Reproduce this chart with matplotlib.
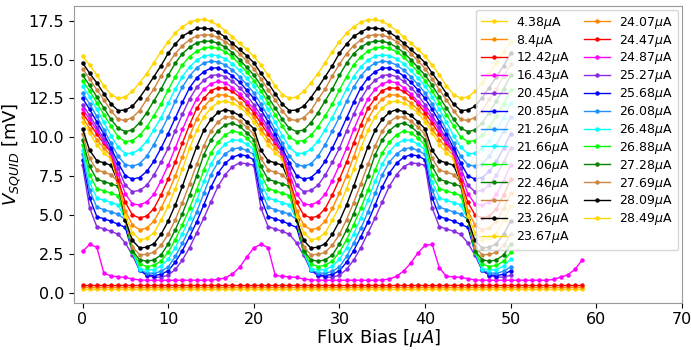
import numpy as np
import matplotlib
matplotlib.use("Agg")
import matplotlib.pyplot as plt

# flux bias sweep in uA (the SQUID curves above 20 uA stop at 50 uA)
flux = np.linspace(0, 58.33, 71)

bias_labels = ["4.38", "8.4", "12.42", "16.43", "20.45", "20.85", "21.26", "21.66",
               "22.06", "22.46", "22.86", "23.26", "23.67", "24.07", "24.47", "24.87",
               "25.27", "25.68", "26.08", "26.48", "26.88", "27.28", "27.69", "28.09", "28.49"]

palette = ["gold", "darkorange", "red", "magenta", "blueviolet", "blue",
           "dodgerblue", "cyan", "lime", "green", "peru", "black"]

# below the critical current: flat
v_04_38 = [0.22] * 71
v_08_40 = [0.37] * 71
v_12_42 = [0.52] * 71

v_16_43 = [2.65, 3.1, 2.93, 1.25, 1.08, 1.02, 0.98, 0.88, 0.82, 0.8, 0.8, 0.8, 0.8, 0.8, 0.8, 0.8, 0.8, 0.8, 0.82, 0.85, 0.95, 1.2, 1.62, 2.28,
           2.88, 3.12, 2.9, 1.12, 1.05, 1.02, 0.98, 0.88, 0.82, 0.8, 0.8, 0.8, 0.8, 0.8, 0.8, 0.8, 0.8, 0.8, 0.82, 0.88, 1.05, 1.4, 1.9, 2.55,
           3.05, 3.1, 1.6, 1.05, 1.02, 0.98, 0.9, 0.82, 0.8, 0.8, 0.8, 0.8, 0.8, 0.8, 0.8, 0.8, 0.8, 0.8, 0.85, 1.0, 1.15, 1.5, 2.1]

v_20_45 = [8.2, 5.45, 4.25, 4.1, 3.95, 3.75, 3.2, 2.4, 1.45, 1.1, 1.0, 1.0, 1.12, 1.5, 2.1, 2.9, 3.85, 4.8, 5.85, 6.85, 7.6, 8.1, 8.35, 8.3,
           8.2, 5.45, 4.25, 4.1, 3.95, 3.75, 3.2, 2.4, 1.45, 1.1, 1.0, 1.0, 1.12, 1.5, 2.1, 2.9, 3.85, 4.8, 5.85, 6.85, 7.6, 8.1, 8.35, 8.3,
           8.2, 5.45, 4.25, 4.1, 3.95, 3.75, 3.2, 2.4, 1.45, 1.1, 1.0, 1.0, 1.12]
v_20_85 = [8.55, 6.1, 4.9, 4.75, 4.6, 4.4, 4.2, 2.6, 1.45, 1.15, 1.1, 1.18, 1.41, 1.96, 2.71, 3.6, 4.56, 5.65, 6.8, 7.7, 8.33, 8.71, 8.88, 8.8,
           8.55, 6.1, 4.9, 4.75, 4.6, 4.4, 4.2, 2.6, 1.45, 1.15, 1.1, 1.18, 1.41, 1.96, 2.71, 3.6, 4.56, 5.65, 6.8, 7.7, 8.33, 8.71, 8.88, 8.8,
           8.55, 6.1, 4.9, 4.75, 4.6, 4.4, 4.2, 2.6, 1.45, 1.15, 1.1, 1.18, 1.41]
v_21_26 = [8.9, 6.6, 5.5, 5.35, 5.2, 5.05, 4.7, 2.6, 1.45, 1.28, 1.24, 1.38, 1.65, 2.33, 3.18, 4.14, 5.21, 6.39, 7.6, 8.4, 8.94, 9.23, 9.33, 9.15,
           8.9, 6.6, 5.5, 5.35, 5.2, 5.05, 4.7, 2.6, 1.45, 1.28, 1.24, 1.38, 1.65, 2.33, 3.18, 4.14, 5.21, 6.39, 7.6, 8.4, 8.94, 9.23, 9.33, 9.15,
           8.9, 6.6, 5.5, 5.35, 5.2, 5.05, 4.7, 2.6, 1.45, 1.28, 1.24, 1.38, 1.65]
v_21_66 = [9.2, 7.1, 6.1, 5.95, 5.8, 5.65, 4.7, 2.6, 1.55, 1.45, 1.49, 1.7, 2.15, 2.9, 3.79, 4.81, 5.95, 7.17, 8.27, 9.07, 9.57, 9.83, 9.8, 9.55,
           9.2, 7.1, 6.1, 5.95, 5.8, 5.65, 4.7, 2.6, 1.55, 1.45, 1.49, 1.7, 2.15, 2.9, 3.79, 4.81, 5.95, 7.17, 8.27, 9.07, 9.57, 9.83, 9.8, 9.55,
           9.2, 7.1, 6.1, 5.95, 5.8, 5.65, 4.7, 2.6, 1.55, 1.45, 1.49, 1.7, 2.15]
v_22_06 = [9.5, 7.6, 6.7, 6.55, 6.4, 6.25, 4.7, 2.6, 1.84, 1.68, 1.76, 2.03, 2.6, 3.42, 4.38, 5.43, 6.62, 7.9, 9.0, 9.68, 10.16, 10.4, 10.3, 9.95,
           9.5, 7.6, 6.7, 6.55, 6.4, 6.25, 4.7, 2.6, 1.84, 1.68, 1.76, 2.03, 2.6, 3.42, 4.38, 5.43, 6.62, 7.9, 9.0, 9.68, 10.16, 10.4, 10.3, 9.95,
           9.5, 7.6, 6.7, 6.55, 6.4, 6.25, 4.7, 2.6, 1.84, 1.68, 1.76, 2.03, 2.6]
v_22_46 = [9.85, 8.12, 7.3, 7.15, 7.0, 6.85, 4.7, 2.7, 2.12, 2.02, 2.11, 2.42, 3.13, 4.04, 5.09, 6.27, 7.52, 8.88, 9.82, 10.43, 10.8, 10.92, 10.7, 10.3,
           9.85, 8.12, 7.3, 7.15, 7.0, 6.85, 4.7, 2.7, 2.12, 2.02, 2.11, 2.42, 3.13, 4.04, 5.09, 6.27, 7.52, 8.88, 9.82, 10.43, 10.8, 10.92, 10.7, 10.3,
           9.85, 8.12, 7.3, 7.15, 7.0, 6.85, 4.7, 2.7, 2.12, 2.02, 2.11, 2.42, 3.13]
v_22_86 = [10.2, 8.64, 7.9, 7.75, 7.6, 7.1, 4.7, 2.95, 2.44, 2.46, 2.6, 3.05, 3.75, 4.7, 5.8, 7.0, 8.25, 9.45, 10.4, 11.0, 11.3, 11.3, 11.05, 10.65,
           10.2, 8.64, 7.9, 7.75, 7.6, 7.1, 4.7, 2.95, 2.44, 2.46, 2.6, 3.05, 3.75, 4.7, 5.8, 7.0, 8.25, 9.45, 10.4, 11.0, 11.3, 11.3, 11.05, 10.65,
           10.2, 8.64, 7.9, 7.75, 7.6, 7.1, 4.7, 2.95, 2.44, 2.46, 2.6, 3.05, 3.75]
v_23_26 = [10.55, 9.16, 8.5, 8.35, 8.2, 7.1, 4.7, 3.36, 2.87, 2.93, 3.15, 3.75, 4.6, 5.65, 6.85, 8.15, 9.4, 10.45, 11.15, 11.6, 11.78, 11.65, 11.4, 11.0,
           10.55, 9.16, 8.5, 8.35, 8.2, 7.1, 4.7, 3.36, 2.87, 2.93, 3.15, 3.75, 4.6, 5.65, 6.85, 8.15, 9.4, 10.45, 11.15, 11.6, 11.78, 11.65, 11.4, 11.0,
           10.55, 9.16, 8.5, 8.35, 8.2, 7.1, 4.7, 3.36, 2.87, 2.93, 3.15, 3.75, 4.6]
v_23_67 = [11.0, 10.3, 9.5, 9.0, 8.6, 7.1, 4.94, 3.87, 3.41, 3.49, 3.85, 4.65, 5.56, 6.7, 7.95, 9.29, 10.45, 11.32, 11.88, 12.24, 12.33, 12.2, 11.95, 11.55,
           11.0, 10.3, 9.5, 9.0, 8.6, 7.1, 4.94, 3.87, 3.41, 3.49, 3.85, 4.65, 5.56, 6.7, 7.95, 9.29, 10.45, 11.32, 11.88, 12.24, 12.33, 12.2, 11.95, 11.55,
           11.0, 10.3, 9.5, 9.0, 8.6, 7.1, 4.94, 3.87, 3.41, 3.49, 3.85, 4.65, 5.56]
v_24_07 = [11.3, 10.55, 9.85, 9.3, 8.8, 7.1, 5.27, 4.35, 4.05, 4.16, 4.6, 5.42, 6.4, 7.53, 8.75, 10.06, 11.19, 11.95, 12.46, 12.72, 12.72, 12.55, 12.2, 11.8,
           11.3, 10.55, 9.85, 9.3, 8.8, 7.1, 5.27, 4.35, 4.05, 4.16, 4.6, 5.42, 6.4, 7.53, 8.75, 10.06, 11.19, 11.95, 12.46, 12.72, 12.72, 12.55, 12.2, 11.8,
           11.3, 10.55, 9.85, 9.3, 8.8, 7.1, 5.27, 4.35, 4.05, 4.16, 4.6, 5.42, 6.4]
v_24_47 = [11.58, 10.9, 10.2, 9.6, 9.0, 7.24, 5.81, 5.0, 4.81, 4.93, 5.41, 6.28, 7.3, 8.41, 9.63, 10.8, 11.86, 12.5, 13.0, 13.19, 13.15, 12.95, 12.6, 12.15,
           11.58, 10.9, 10.2, 9.6, 9.0, 7.24, 5.81, 5.0, 4.81, 4.93, 5.41, 6.28, 7.3, 8.41, 9.63, 10.8, 11.86, 12.5, 13.0, 13.19, 13.15, 12.95, 12.6, 12.15,
           11.58, 10.9, 10.2, 9.6, 9.0, 7.24, 5.81, 5.0, 4.81, 4.93, 5.41, 6.28, 7.3]
v_24_87 = [11.84, 11.15, 10.45, 9.75, 9.0, 7.64, 6.36, 5.7, 5.65, 5.84, 6.32, 7.2, 8.2, 9.3, 10.5, 11.56, 12.48, 13.08, 13.44, 13.6, 13.5, 13.2, 12.8, 12.3,
           11.84, 11.15, 10.45, 9.75, 9.0, 7.64, 6.36, 5.7, 5.65, 5.84, 6.32, 7.2, 8.2, 9.3, 10.5, 11.56, 12.48, 13.08, 13.44, 13.6, 13.5, 13.2, 12.8, 12.3,
           11.84, 11.15, 10.45, 9.75, 9.0, 7.64, 6.36, 5.7, 5.65, 5.84, 6.32, 7.2, 8.2]
v_25_27 = [12.1, 11.4, 10.65, 9.9, 9.1, 8.0, 6.9, 6.5, 6.58, 6.91, 7.56, 8.39, 9.29, 10.42, 11.48, 12.46, 13.21, 13.66, 13.96, 14.03, 13.9, 13.6, 13.2, 12.7,
           12.1, 11.4, 10.65, 9.9, 9.1, 8.0, 6.9, 6.5, 6.58, 6.91, 7.56, 8.39, 9.29, 10.42, 11.48, 12.46, 13.21, 13.66, 13.96, 14.03, 13.9, 13.6, 13.2, 12.7,
           12.1, 11.4, 10.65, 9.9, 9.1, 8.0, 6.9, 6.5, 6.58, 6.91, 7.56, 8.39, 9.29]
v_25_68 = [12.5, 11.8, 11.0, 10.2, 9.3, 8.35, 7.52, 7.31, 7.41, 7.8, 8.45, 9.3, 10.24, 11.24, 12.25, 13.18, 13.82, 14.22, 14.44, 14.47, 14.25, 13.95, 13.55, 13.05,
           12.5, 11.8, 11.0, 10.2, 9.3, 8.35, 7.52, 7.31, 7.41, 7.8, 8.45, 9.3, 10.24, 11.24, 12.25, 13.18, 13.82, 14.22, 14.44, 14.47, 14.25, 13.95, 13.55, 13.05,
           12.5, 11.8, 11.0, 10.2, 9.3, 8.35, 7.52, 7.31, 7.41, 7.8, 8.45, 9.3, 10.24]
v_26_08 = [12.86, 12.15, 11.34, 10.48, 9.62, 8.77, 8.24, 8.13, 8.3, 8.78, 9.53, 10.39, 11.3, 12.32, 13.23, 13.95, 14.46, 14.78, 14.89, 14.85, 14.65, 14.32, 13.9, 13.4,
           12.86, 12.15, 11.34, 10.48, 9.62, 8.77, 8.24, 8.13, 8.3, 8.78, 9.53, 10.39, 11.3, 12.32, 13.23, 13.95, 14.46, 14.78, 14.89, 14.85, 14.65, 14.32, 13.9, 13.4,
           12.86, 12.15, 11.34, 10.48, 9.62, 8.77, 8.24, 8.13, 8.3, 8.78, 9.53, 10.39, 11.3]
v_26_48 = [13.29, 12.6, 11.8, 10.95, 10.1, 9.35, 8.95, 8.97, 9.23, 9.76, 10.48, 11.27, 12.18, 13.1, 13.9, 14.53, 14.95, 15.22, 15.3, 15.25, 15.05, 14.72, 14.3, 13.8,
           13.29, 12.6, 11.8, 10.95, 10.1, 9.35, 8.95, 8.97, 9.23, 9.76, 10.48, 11.27, 12.18, 13.1, 13.9, 14.53, 14.95, 15.22, 15.3, 15.25, 15.05, 14.72, 14.3, 13.8,
           13.29, 12.6, 11.8, 10.95, 10.1, 9.35, 8.95, 8.97, 9.23, 9.76, 10.48, 11.27, 12.18]
v_26_88 = [13.65, 12.98, 12.23, 11.44, 10.73, 10.02, 9.72, 9.79, 10.13, 10.68, 11.38, 12.14, 13.04, 13.9, 14.66, 15.18, 15.54, 15.74, 15.8, 15.72, 15.5, 15.15, 14.7, 14.2,
           13.65, 12.98, 12.23, 11.44, 10.73, 10.02, 9.72, 9.79, 10.13, 10.68, 11.38, 12.14, 13.04, 13.9, 14.66, 15.18, 15.54, 15.74, 15.8, 15.72, 15.5, 15.15, 14.7, 14.2,
           13.65, 12.98, 12.23, 11.44, 10.73, 10.02, 9.72, 9.79, 10.13, 10.68, 11.38, 12.14, 13.04]
v_27_28 = [14.0, 13.34, 12.6, 11.88, 11.15, 10.57, 10.37, 10.47, 10.94, 11.58, 12.34, 13.1, 13.98, 14.77, 15.38, 15.79, 16.08, 16.18, 16.18, 16.05, 15.8, 15.45, 15.0, 14.5,
           14.0, 13.34, 12.6, 11.88, 11.15, 10.57, 10.37, 10.47, 10.94, 11.58, 12.34, 13.1, 13.98, 14.77, 15.38, 15.79, 16.08, 16.18, 16.18, 16.05, 15.8, 15.45, 15.0, 14.5,
           14.0, 13.34, 12.6, 11.88, 11.15, 10.57, 10.37, 10.47, 10.94, 11.58, 12.34, 13.1, 13.98]
v_27_69 = [14.42, 13.75, 13.07, 12.4, 11.7, 11.15, 11.08, 11.27, 11.72, 12.44, 13.1, 13.94, 14.7, 15.38, 15.9, 16.27, 16.52, 16.6, 16.57, 16.42, 16.15, 15.8, 15.38, 14.92,
           14.42, 13.75, 13.07, 12.4, 11.7, 11.15, 11.08, 11.27, 11.72, 12.44, 13.1, 13.94, 14.7, 15.38, 15.9, 16.27, 16.52, 16.6, 16.57, 16.42, 16.15, 15.8, 15.38, 14.92,
           14.42, 13.75, 13.07, 12.4, 11.7, 11.15, 11.08, 11.27, 11.72, 12.44, 13.1, 13.94, 14.7]
v_28_09 = [14.8, 14.12, 13.5, 12.8, 12.13, 11.72, 11.75, 12.0, 12.55, 13.2, 13.9, 14.6, 15.4, 16.0, 16.5, 16.77, 17.0, 17.03, 16.95, 16.75, 16.45, 16.05, 15.65, 15.25,
           14.8, 14.12, 13.5, 12.8, 12.13, 11.72, 11.75, 12.0, 12.55, 13.2, 13.9, 14.6, 15.4, 16.0, 16.5, 16.77, 17.0, 17.03, 16.95, 16.75, 16.45, 16.05, 15.65, 15.25,
           14.8, 14.12, 13.5, 12.8, 12.13, 11.72, 11.75, 12.0, 12.55, 13.2, 13.9, 14.6, 15.4]
v_28_49 = [15.2, 14.65, 14.0, 13.3, 12.75, 12.5, 12.6, 12.95, 13.5, 14.1, 14.8, 15.5, 16.15, 16.7, 17.1, 17.4, 17.55, 17.58, 17.45, 17.2, 16.85, 16.45, 16.05, 15.65,
           15.2, 14.65, 14.0, 13.3, 12.75, 12.5, 12.6, 12.95, 13.5, 14.1, 14.8, 15.5, 16.15, 16.7, 17.1, 17.4, 17.55, 17.58, 17.45, 17.2, 16.85, 16.45, 16.05, 15.65,
           15.2, 14.65, 14.0, 13.3, 12.75, 12.5, 12.6, 12.95, 13.5, 14.1, 14.8, 15.5, 16.15]

curves = [v_04_38, v_08_40, v_12_42, v_16_43, v_20_45, v_20_85, v_21_26, v_21_66,
          v_22_06, v_22_46, v_22_86, v_23_26, v_23_67, v_24_07, v_24_47, v_24_87,
          v_25_27, v_25_68, v_26_08, v_26_48, v_26_88, v_27_28, v_27_69, v_28_09, v_28_49]

fig, ax = plt.subplots(figsize=(6.91, 3.5), dpi=100)
fig.subplots_adjust(left=0.107, right=0.987, bottom=0.135, top=0.983)

for n, (vals, lab) in enumerate(zip(curves, bias_labels)):
    ax.plot(flux[:len(vals)], vals, color=palette[n % 12], marker='o', ms=2.2, lw=1.0,
            label=lab + r'$\mu$A')

ax.set_xlim(-1, 70)
ax.set_xticks(np.arange(0, 71, 10))
ax.set_xlabel(r'Flux Bias [$\mu A$]', fontsize=13, labelpad=0)
ax.set_ylabel(r'$V_{SQUID}$ [mV]', fontsize=13, labelpad=4)
ax.tick_params(labelsize=11.5)
for s in ax.spines.values():
    s.set_color('0.6')

ax.legend(loc='upper right', ncol=2, fontsize=9, labelspacing=0.15,
          columnspacing=1.1, handlelength=2.1, handletextpad=0.7, borderaxespad=0.3)

fig.savefig('out.png', dpi=100)
